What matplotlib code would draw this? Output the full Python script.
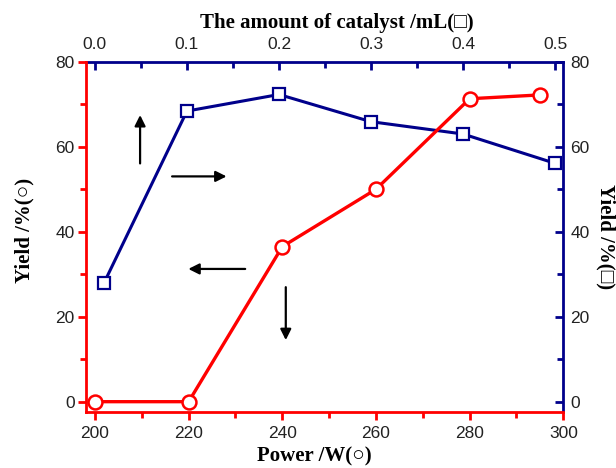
import matplotlib
matplotlib.use("Agg")
import matplotlib.pyplot as plt
from matplotlib.ticker import MultipleLocator

# yield vs microwave power (red circles, bottom/left axes)
power = [200, 220, 240, 260, 280, 295]
yield_power = [0, 0, 36.5, 50, 71.3, 72.2]

# yield vs catalyst amount (blue squares, top/right axes)
catalyst = [0.01, 0.1, 0.2, 0.3, 0.4, 0.5]
yield_cat = [28, 68.4, 72.3, 65.9, 63.0, 56.1]

RED = "#ff0000"
NAVY = "#00008b"

tick_font = {"family": ["Liberation Sans", "DejaVu Sans"], "size": 12.5}
label_font = {"family": ["Liberation Serif", "DejaVu Serif"], "size": 15, "weight": "bold"}

fig = plt.figure(figsize=(6.16, 4.68), dpi=100)
pos = [0.139, 0.119, 0.9145 - 0.139, 0.868 - 0.119]
ax2 = fig.add_axes(pos)
ax = fig.add_axes(pos)
ax.patch.set_visible(False)

# catalyst series on top/right axes
ax2.plot(catalyst, yield_cat, color=NAVY, lw=2.2, marker="s", ms=8,
         mfc="white", mec=NAVY, mew=1.6, clip_on=False)
ax2.set_xlim(-0.0101, 0.509)
ax2.set_ylim(-2.5, 80)
ax2.xaxis.tick_top()
ax2.xaxis.set_label_position("top")
ax2.yaxis.tick_right()
ax2.yaxis.set_label_position("right")
ax2.xaxis.set_major_locator(MultipleLocator(0.1))
ax2.xaxis.set_minor_locator(MultipleLocator(0.05))
ax2.yaxis.set_major_locator(MultipleLocator(20))
ax2.yaxis.set_minor_locator(MultipleLocator(10))
ax2.tick_params(which="both", direction="in", color=NAVY, width=2, labelcolor="#222222")
ax2.tick_params(which="major", length=6)
ax2.tick_params(which="minor", length=4)
ax2.tick_params(axis="x", pad=7)
ax2.tick_params(axis="y", pad=5)
for lab in ax2.get_xticklabels() + ax2.get_yticklabels():
    lab.set_fontproperties(tick_font)
ax2.xaxis.set_major_formatter(plt.FuncFormatter(lambda v, p: f"{v:.1f}"))
for side in ["left", "bottom"]:
    ax2.spines[side].set_visible(False)
for side in ["top", "right"]:
    ax2.spines[side].set_color(NAVY)
    ax2.spines[side].set_linewidth(2)
ax2.set_xlabel("The amount of catalyst /mL(□)", fontdict=label_font)
ax2.xaxis.set_label_coords(0.526, 1.097)
ax2.set_ylabel("Yield /%(□)", fontdict=label_font, rotation=270)
ax2.yaxis.set_label_coords(1.11, 0.5)

# power series on bottom/left axes
ax.plot(power, yield_power, color=RED, lw=2.4, marker="o", ms=10,
        mfc="white", mec=RED, mew=1.8, clip_on=False)
ax.set_xlim(198, 300)
ax.set_ylim(-2.5, 80)
ax.xaxis.set_major_locator(MultipleLocator(20))
ax.xaxis.set_minor_locator(MultipleLocator(10))
ax.yaxis.set_major_locator(MultipleLocator(20))
ax.yaxis.set_minor_locator(MultipleLocator(10))
ax.tick_params(which="both", direction="out", color=RED, width=2, labelcolor="#222222")
ax.tick_params(which="major", length=6)
ax.tick_params(which="minor", length=4)
ax.tick_params(axis="y", pad=2)
for lab in ax.get_xticklabels() + ax.get_yticklabels():
    lab.set_fontproperties(tick_font)
for side in ["top", "right"]:
    ax.spines[side].set_visible(False)
for side in ["left", "bottom"]:
    ax.spines[side].set_color(RED)
    ax.spines[side].set_linewidth(2)
ax.set_xlabel("Power /W(○)", fontdict=label_font)
ax.xaxis.set_label_coords(0.478, -0.097)
ax.set_ylabel("Yield /%(○)", fontdict=label_font)
ax.yaxis.set_label_coords(-0.108, 0.52)

# direction arrows pointing each series to its own axes
arrow = dict(arrowstyle="-|>", color="black", lw=1.6, mutation_scale=16, shrinkA=0, shrinkB=0)
ax.annotate("", xy=(0.114, 0.848), xytext=(0.114, 0.710), xycoords="axes fraction", arrowprops=arrow)
ax.annotate("", xy=(0.295, 0.673), xytext=(0.181, 0.673), xycoords="axes fraction", arrowprops=arrow)
ax.annotate("", xy=(0.215, 0.409), xytext=(0.334, 0.409), xycoords="axes fraction", arrowprops=arrow)
ax.annotate("", xy=(0.419, 0.206), xytext=(0.419, 0.357), xycoords="axes fraction", arrowprops=arrow)

fig.savefig("out.png", dpi=100)
